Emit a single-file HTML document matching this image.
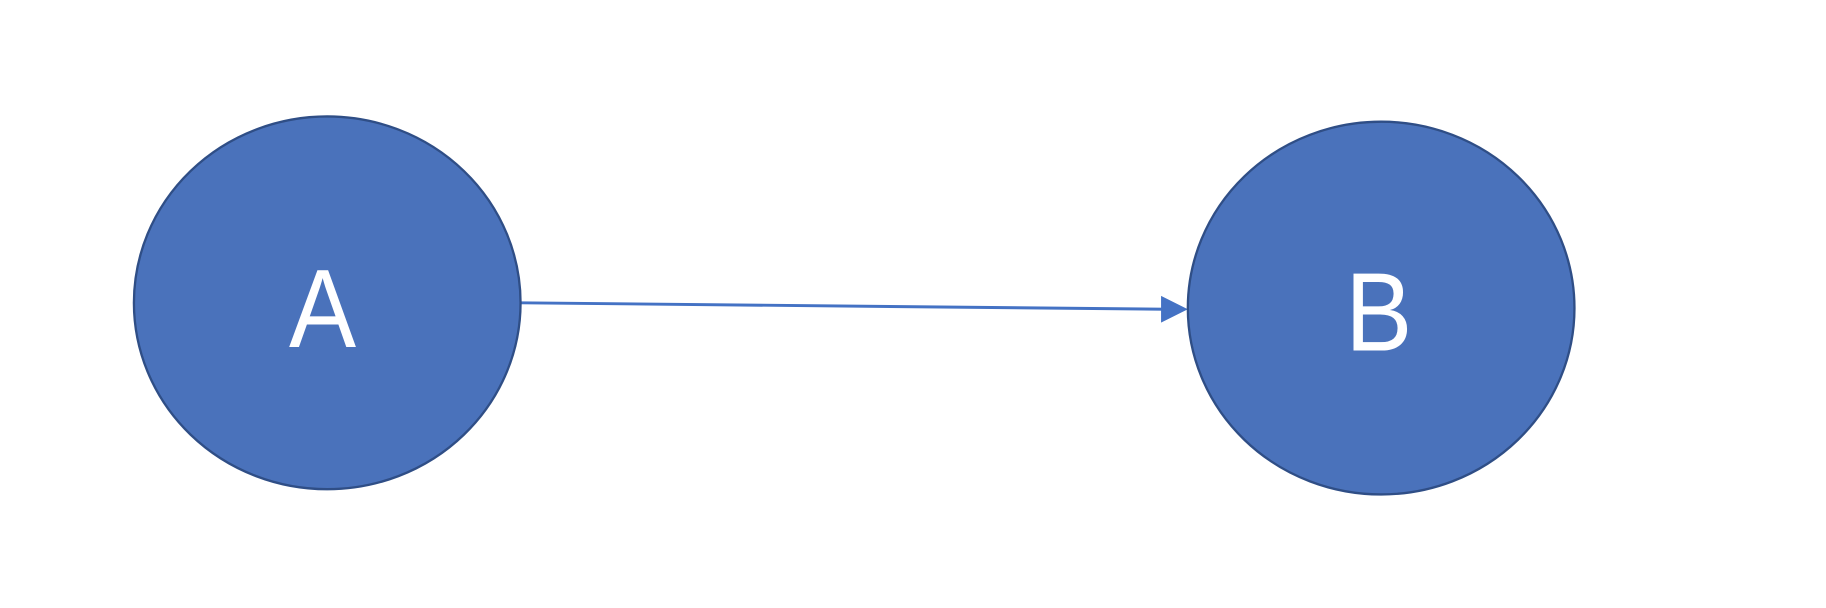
<!DOCTYPE html>
<html><head><meta charset="utf-8"><style>
html,body{margin:0;padding:0;background:#fff;}
svg{display:block;}
</style></head><body>
<svg width="1826" height="608" viewBox="0 0 1568 522" preserveAspectRatio="none" xmlns="http://www.w3.org/2000/svg">
<line x1="447" y1="260" x2="1002" y2="265.5" stroke="#4472C4" stroke-width="2.5"/>
<path d="M997,254 L1020,265.5 L997,277 z" fill="#4472C4"/>
<ellipse cx="281" cy="260" rx="166" ry="160" fill="#4A72BB" stroke="#2F4E86" stroke-width="2"/>
<ellipse cx="1186" cy="264.5" rx="166" ry="160" fill="#4A72BB" stroke="#2F4E86" stroke-width="2"/>
<text x="277" y="298" text-anchor="middle" font-family="Liberation Sans, sans-serif" font-size="96" fill="#fff" transform="translate(277 0) scale(0.9 1) translate(-277 0)">A</text>
<text x="1184" y="301" text-anchor="middle" font-family="Liberation Sans, sans-serif" font-size="96" fill="#fff" transform="translate(1184 0) scale(0.9 1) translate(-1184 0)">B</text>
</svg>
</body></html>
